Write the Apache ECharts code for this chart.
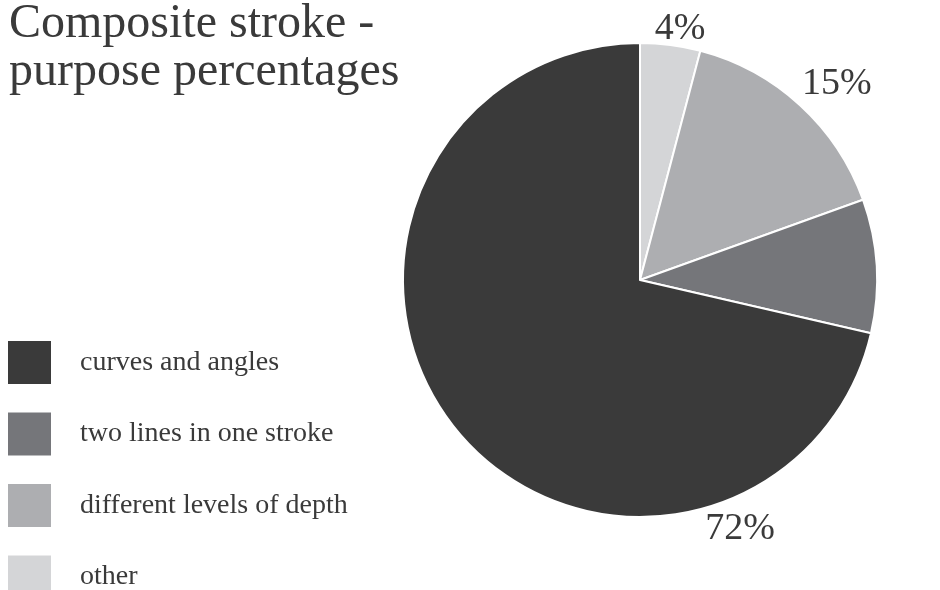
<!DOCTYPE html>
<html>
<head>
<meta charset="utf-8">
<script src="https://cdn.jsdelivr.net/npm/echarts@6/dist/echarts.min.js"></script>
<style>html,body{margin:0;padding:0;background:#fff}#c{width:940px;height:590px}</style>
</head>
<body>
<div id="c"></div>
<script>
// Data (clockwise from 12 o'clock)
const categories = ['other', 'different levels of depth', 'two lines in one stroke', 'curves and angles'];
const values = [4.1, 15.4, 9.1, 71.4];           // slice shares as drawn
const labelTexts = ['4%', '15%', '9%', '72%'];    // printed labels
const colors = ['#d4d5d7', '#adaeb1', '#75767a', '#3a3a3a'];
const legendOrder = ['curves and angles', 'two lines in one stroke', 'different levels of depth', 'other'];
const titleText = 'Composite stroke -\npurpose percentages';
// Label placement (angle in degrees clockwise from top, distance from centre in px)
const labelAngle = [9.05, 45.1, 88.9, 158.1];
const labelDist = [254, 278, 269, 268];

const cx = 640, cy = 280, R = 237;
const serif = "'Liberation Serif', 'Times New Roman', serif";
const textColor = '#3a3a3a';

const chart = echarts.init(document.getElementById('c'), null, {renderer: 'canvas'});
chart.setOption({
  backgroundColor: '#fff',
  animation: false,
  title: {
    text: titleText,
    left: 9, top: 0, padding: 0,
    textStyle: {fontFamily: serif, fontSize: 48, lineHeight: 48, fontWeight: 'normal', color: textColor}
  },
  legend: {
    orient: 'vertical',
    left: 6, top: 339, height: 280,
    padding: 0,
    data: legendOrder,
    icon: 'rect',
    itemWidth: 45, itemHeight: 45, itemGap: 24.5,
    selectedMode: false,
    textStyle: {fontFamily: serif, fontSize: 28, color: textColor, padding: [0, 0, 0, 23]}
  },
  series: [{
    type: 'pie',
    center: [cx, cy],
    radius: R,
    startAngle: 90,
    clockwise: true,
    silent: true,
    data: categories.map((n, i) => ({name: n, value: values[i], itemStyle: {color: colors[i]}})),
    itemStyle: {borderColor: '#fff', borderWidth: 2},
    label: {
      show: true, position: 'outside',
      formatter: p => labelTexts[p.dataIndex],
      fontFamily: serif, fontSize: 38, color: textColor
    },
    labelLine: {show: false},
    labelLayout: function (p) {
      const a = labelAngle[p.dataIndex] * Math.PI / 180;
      const d = labelDist[p.dataIndex];
      return {x: cx + d * Math.sin(a), y: cy - d * Math.cos(a), align: 'center', verticalAlign: 'middle'};
    }
  }]
});
</script>
</body>
</html>
